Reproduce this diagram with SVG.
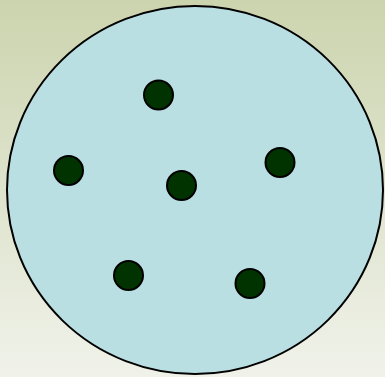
<svg xmlns="http://www.w3.org/2000/svg" width="385" height="377" viewBox="0 0 385 377">
<defs>
<linearGradient id="bg" x1="0" y1="0" x2="0" y2="1">
<stop offset="0" stop-color="#ccd4ae"/>
<stop offset="1" stop-color="#f0f2ea"/>
</linearGradient>
<style>
.dot{fill:#003300;stroke:#000;stroke-width:2}
</style>
</defs>
<rect width="385" height="377" fill="url(#bg)"/>
<g id="cell">
<ellipse cx="195" cy="190" rx="188" ry="184" fill="#b9dfe3" stroke="#000" stroke-width="2"/>
</g>
<g id="dot1"><circle class="dot" cx="158.5" cy="95" r="14.5"/></g>
<g id="dot2"><circle class="dot" cx="68.5" cy="170.5" r="14.5"/></g>
<g id="dot3"><circle class="dot" cx="181.5" cy="185.5" r="14.5"/></g>
<g id="dot4"><circle class="dot" cx="280" cy="162.5" r="14.5"/></g>
<g id="dot5"><circle class="dot" cx="128.5" cy="275.5" r="14.5"/></g>
<g id="dot6"><circle class="dot" cx="250" cy="283.5" r="14.5"/></g>
<g id="connectors"></g>
</svg>
